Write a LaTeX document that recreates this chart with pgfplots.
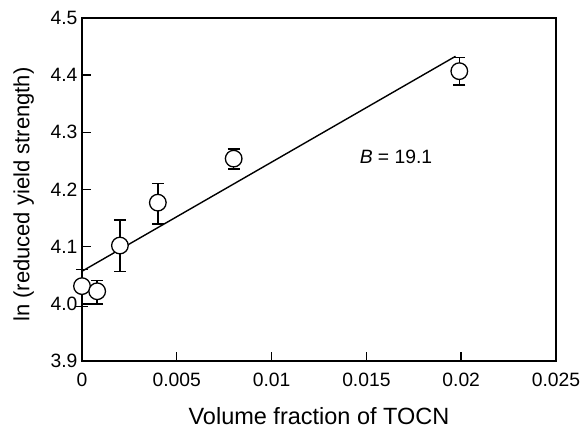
\documentclass[border=0pt]{standalone}
\usepackage{pgfplots}
\pgfplotsset{compat=1.18}
\usepackage{fontspec}
\setmainfont{Liberation Sans}
\begin{document}
\begin{tikzpicture}
\begin{axis}[
  scale only axis,
  width=474pt, height=343pt,
  xmin=0, xmax=0.025, ymin=3.9, ymax=4.5,
  axis line style={line width=1.6pt},
  every tick/.style={black, line width=1.4pt},
  major tick length=9pt,
  tick align=inside,
  xtick pos=left, ytick pos=left,
  scaled x ticks=false,
  xtick={0,0.005,0.01,0.015,0.02,0.025},
  xticklabels={0,0.005,0.01,0.015,0.02,0.025},
  ytick={3.9,4.0,4.1,4.2,4.3,4.4,4.5},
  y tick label style={xshift=-1pt, /pgf/number format/.cd, fixed, fixed zerofill, precision=1},
  /pgf/number format/assume math mode=true,
  tick label style={font=\fontsize{19.3}{22}\selectfont},
  x tick label style={yshift=-8pt},
  xlabel={Volume fraction of TOCN},
  ylabel={ln (reduced yield strength)},
  xlabel style={font=\fontsize{23.5}{27}\selectfont, at={(axis description cs:0.5,-0.1837)}, anchor=base},
  ylabel style={font=\fontsize{22}{26}\selectfont, at={(axis description cs:-0.111,0.485)}, anchor=base, rotate=0},
  clip=false,
]
\addplot[black, line width=1.4pt] coordinates {(0,4.057) (0.0197,4.433)};
\addplot[only marks, mark=*, mark size=8.3pt,
  mark options={fill=white, draw=black, line width=1.3pt},
  error bars/.cd, y dir=both, y explicit,
  error bar style={line width=1.4pt, black},
  error mark options={rotate=90, mark size=6pt, line width=1.4pt, black}]
  table[x=x, y=y, y error plus=ep, y error minus=em] {
  x       y      ep     em
  0       4.031  0.029  0.036
  0.0008  4.022  0.019  0.022
  0.002   4.102  0.045  0.045
  0.004   4.177  0.034  0.037
  0.008   4.254  0.017  0.018
  0.0199  4.407  0.024  0.024
};
\node[font=\fontsize{19.3}{22}\selectfont] at (axis cs:0.01656,4.2566) {\textit{B} = 19.1};
\end{axis}
\pgfresetboundingbox
\path[use as bounding box] (-82pt,-68pt) rectangle (500pt,361pt);
\end{tikzpicture}
\end{document}
